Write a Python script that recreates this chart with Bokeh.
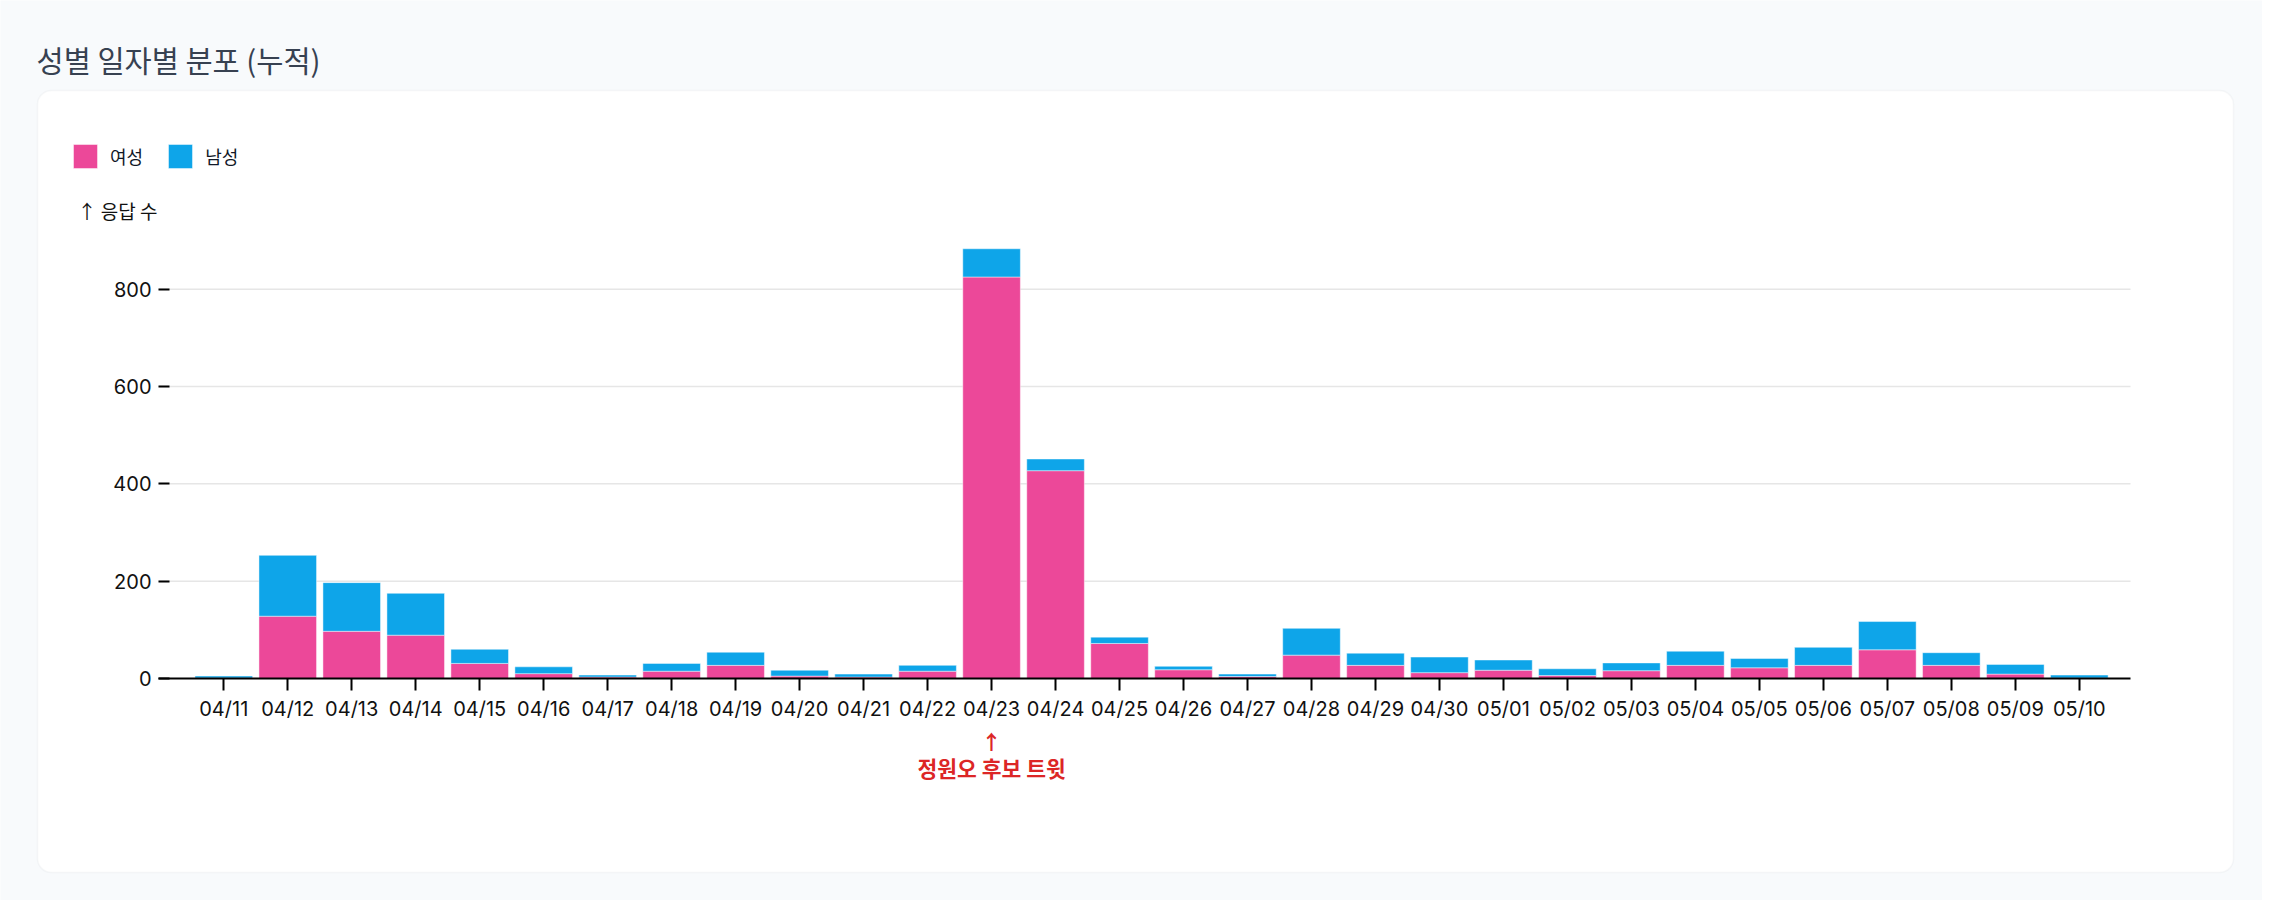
from bokeh.plotting import figure
from bokeh.models import (Range1d, FixedTicker, Label, BoxAnnotation, ColumnDataSource)
from bokeh.embed import file_html
from bokeh.resources import INLINE

# ---------------- data ----------------
dates = ["04/11", "04/12", "04/13", "04/14", "04/15", "04/16", "04/17", "04/18", "04/19", "04/20",
         "04/21", "04/22", "04/23", "04/24", "04/25", "04/26", "04/27", "04/28", "04/29", "04/30",
         "05/01", "05/02", "05/03", "05/04", "05/05", "05/06", "05/07", "05/08", "05/09", "05/10"]
female = [1, 128, 97, 89, 31, 10, 3, 15, 27, 5, 3, 15, 825, 427, 72, 18, 4, 48, 27, 12,
          17, 6, 16, 27, 22, 27, 59, 27, 9, 1]
male = [4, 125, 100, 86, 29, 14, 4, 16, 27, 12, 6, 12, 58, 24, 13, 7, 5, 55, 25, 32,
        21, 14, 16, 29, 19, 37, 58, 26, 20, 6]
series_names = ["여성", "남성"]
series_colors = ["#ec4899", "#0ea5e9"]
y_ticks = [0, 200, 400, 600, 800]
title_text = "성별 일자별 분포 (누적)"
y_label_text = "↑ 응답 수"
event_date = "04/23"
event_text = "정원오 후보 트윗"

# ---------------- layout ----------------
W, H = 2262, 900
# plot area (in figure pixels) and its data extent
PL, PR, PT, PB = 158, 2130, 240, 678
DX0, DX1 = -1.02, 29.8
DY0, DY1 = 0, 900
SX = (PR - PL) / (DX1 - DX0)
SY = (PB - PT) / (DY1 - DY0)
XS = DX0 - PL / SX
XE = XS + W / SX
YS = DY0 - (H - PB) / SY
YE = YS + H / SY
KR = "Noto Sans CJK KR"
LAT = "Inter"
BG = "#f8fafc"


def fx(px):
    return XS + px / SX


def fy(py):
    return YS + (H - py) / SY


idx = list(range(len(dates)))
source = ColumnDataSource(dict(x=idx, female=female, male=male))

p = figure(width=W, height=H, output_backend="svg", toolbar_location=None, tools="",
           x_range=Range1d(XS, XE), y_range=Range1d(YS, YE),
           min_border=0, min_border_left=0, min_border_right=0,
           min_border_top=0, min_border_bottom=0)
p.title.visible = False
p.border_fill_color = BG
p.background_fill_color = BG
p.outline_line_color = None

# card
card = BoxAnnotation(left=fx(37), right=fx(2233), top=fy(90), bottom=fy(872),
                     fill_color="white", fill_alpha=1.0,
                     line_color="#e2e4e8", line_width=1.5, border_radius=14, level="underlay")
p.add_layout(card)

# grid lines (from tick values, across the plot area)
grid_src = ColumnDataSource(dict(y=y_ticks[1:], x0=[DX0] * (len(y_ticks) - 1),
                                 x1=[DX1] * (len(y_ticks) - 1)))
p.segment(x0="x0", x1="x1", y0="y", y1="y", source=grid_src,
          line_color="#e6e6e6", line_width=1.5)

p.vbar_stack(["female", "male"], x="x", width=0.9, source=source,
             color=series_colors, line_color="white", line_alpha=0.45, line_width=1,
             legend_label=series_names)

p.xgrid.visible = False
p.ygrid.visible = False

# axes, fixed inside the full-canvas frame
p.xaxis.fixed_location = 0
p.xaxis.bounds = (DX0, DX1)
p.xaxis.ticker = FixedTicker(ticks=idx)
p.xaxis.major_label_overrides = {i: d for i, d in zip(idx, dates)}
p.xaxis.axis_line_color = "black"
p.xaxis.axis_line_width = 2
p.xaxis.major_tick_line_color = "black"
p.xaxis.major_tick_line_width = 2
p.xaxis.major_tick_out = 12
p.xaxis.major_tick_in = 0
p.xaxis.minor_tick_line_color = None
p.xaxis.major_label_standoff = 6
p.xaxis.major_label_text_font = LAT
p.xaxis.major_label_text_font_size = "20px"
p.xaxis.major_label_text_color = "#111111"

p.yaxis.fixed_location = DX0
p.yaxis.bounds = (DY0, y_ticks[-1])
p.yaxis.ticker = FixedTicker(ticks=y_ticks)
p.yaxis.axis_line_color = None
p.yaxis.major_tick_line_color = "black"
p.yaxis.major_tick_line_width = 2
p.yaxis.major_tick_out = 0
p.yaxis.major_tick_in = 11
p.yaxis.minor_tick_line_color = None
p.yaxis.major_label_standoff = 7
p.yaxis.major_label_text_font = LAT
p.yaxis.major_label_text_font_size = "20px"
p.yaxis.major_label_text_color = "#111111"

# legend
lg = p.legend[0]
lg.location = (70, H - 171)
lg.orientation = "horizontal"
lg.glyph_width = 30
lg.glyph_height = 30
lg.label_height = 30
lg.label_standoff = 10
lg.spacing = 22
lg.padding = 0
lg.margin = 0
lg.border_line_color = None
lg.background_fill_alpha = 0
lg.label_text_font = KR
lg.label_text_font_size = "18px"
lg.label_text_color = "#111827"

# texts
p.add_layout(Label(x=fx(36), y=fy(58), text=title_text, text_font=KR, text_font_size="29.5px",
                   text_color="#374151", text_align="left", text_baseline="middle"))
p.add_layout(Label(x=fx(77), y=fy(210), text=y_label_text, text_font=KR, text_font_size="19px",
                   text_color="#111111", text_align="left", text_baseline="middle"))
ex = dates.index(event_date)
p.add_layout(Label(x=ex, y=fy(741), text="↑", text_font=KR, text_font_size="20px",
                   text_font_style="bold", text_color="#dc2626",
                   text_align="center", text_baseline="middle"))
p.add_layout(Label(x=ex, y=fy(767), text=event_text, text_font=KR, text_font_size="21.5px",
                   text_font_style="bold", text_color="#dc2626",
                   text_align="center", text_baseline="middle"))

open("out.html", "w").write(file_html(p, INLINE))
